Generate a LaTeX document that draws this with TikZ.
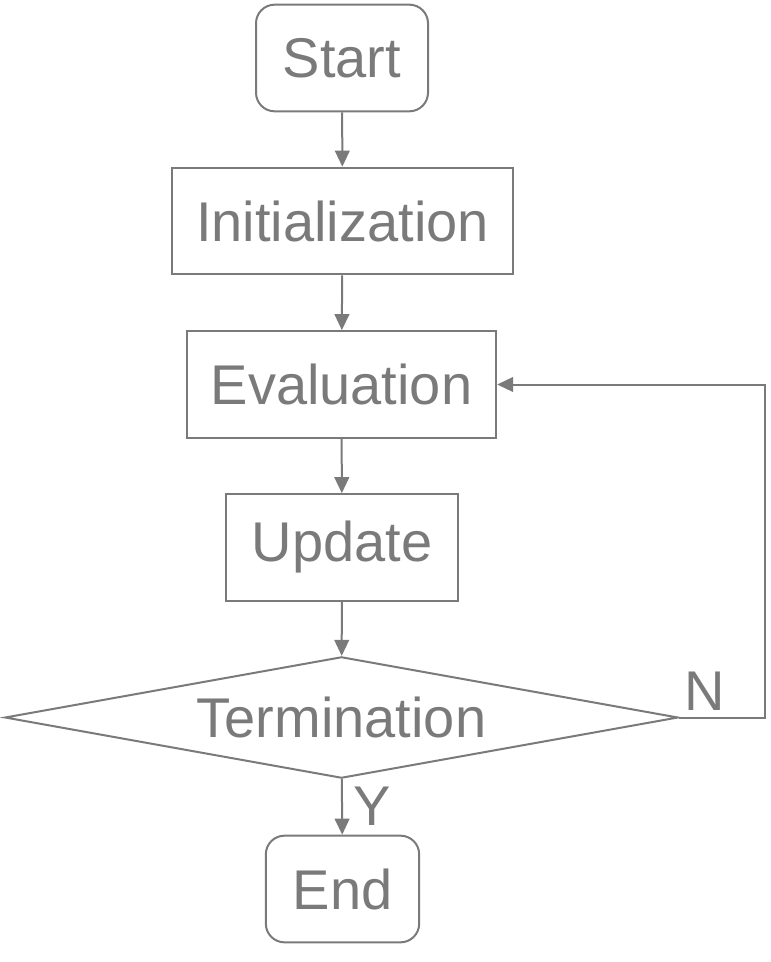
\documentclass[tikz,border=0pt]{standalone}
\usepackage{fontspec}
\setmainfont{Liberation Sans}
\usetikzlibrary{shapes.geometric,arrows.meta}
\definecolor{flowgray}{RGB}{122,122,122}
\begin{document}
\begin{tikzpicture}[x=0.75pt,y=-0.75pt,
  every node/.style={text=flowgray,font=\fontsize{42}{50}\selectfont},
  proc/.style={draw=flowgray,line width=1.5pt,inner sep=0pt,minimum height=80pt},
  term/.style={proc,rounded corners=14pt},
  flow/.style={draw=flowgray,line width=1.5pt,-{Triangle[length=12pt,width=11pt]}}]
\useasboundingbox (0,0) rectangle (770,962);
\node[term,minimum width=129pt] (start) at (342,58) {Start};
\node[proc,minimum width=256pt] (init) at (342.5,221) {Initialization};
\node[proc,minimum width=232pt] (eval) at (341.5,384.5) {Evaluation};
\node[proc,minimum width=174pt] (update) at (342,547.5) {Update};
\node[draw=flowgray,line width=1.5pt,diamond,aspect=5.56,inner sep=0pt,
  minimum width=505pt,minimum height=91pt] (check) at (341.5,717.5) {Termination};
\node[term,minimum width=115pt] (stop) at (342.5,889) {End};
% main line
\draw[flow] (start) -- (init);
\draw[flow] (init) -- (eval);
\draw[flow] (eval) -- (update);
\draw[flow] (update) -- (check);
\draw[flow] (check) -- (stop);
% loop back
\coordinate (loop) at (765,717.5);
\draw[flow] (check.east) -- (loop) |- (eval.east);
\node (no) at (705,691) {N};
\node (yes) at (372,806) {Y};
\end{tikzpicture}
\end{document}
